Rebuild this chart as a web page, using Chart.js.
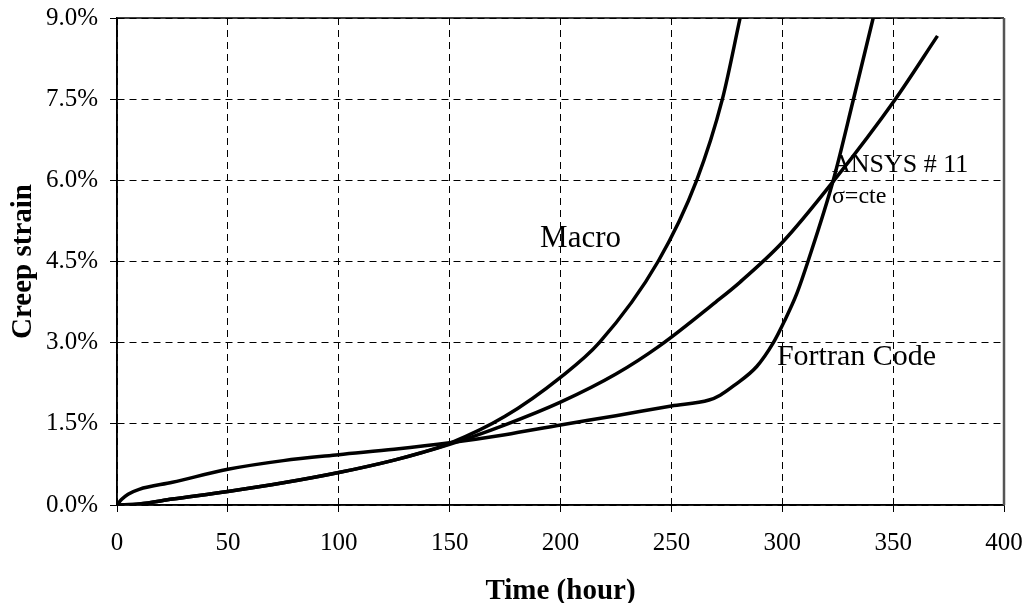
<!DOCTYPE html>
<html>
<head>
<meta charset="utf-8">
<title>Creep strain vs time</title>
<script src="https://cdn.jsdelivr.net/npm/chart.js@4.4.1/dist/chart.umd.min.js"></script>
<style>
  html, body { margin: 0; padding: 0; background: #fff; }
  #wrap { width: 1031px; height: 603px; position: relative; }
</style>
</head>
<body>
<div id="wrap"><canvas id="creep"></canvas></div>
<script>
// axis ticks
const xTicks = [0, 50, 100, 150, 200, 250, 300, 350, 400];
const yTicks = [0, 1.5, 3.0, 4.5, 6.0, 7.5, 9.0];

// creep strain (%) against time (hour) for each model
const macroHours = [0, 10, 25, 50, 75, 100, 125, 137.5, 150, 175, 200, 217.5, 244, 261.4, 273, 281];
const macroStrain = [0, 0.02, 0.11, 0.25, 0.41, 0.6, 0.83, 0.97, 1.14, 1.64, 2.36, 3.0, 4.5, 6.0, 7.5, 9.0];

const ansysHours = [0, 10, 25, 50, 75, 100, 125, 150, 175, 200, 225, 245, 270, 281, 300, 323, 351, 370];
const ansysStrain = [0, 0.02, 0.11, 0.25, 0.41, 0.6, 0.83, 1.12, 1.48, 1.9, 2.42, 2.95, 3.75, 4.12, 4.85, 5.98, 7.5, 8.67];

const fortranHours = [0, 2, 5, 10, 25, 50, 75, 100, 125, 150, 175, 200, 225, 250, 267, 272, 278, 288.5, 296, 301, 306.5, 312, 323, 332, 341];
const fortranStrain = [0, 0.1, 0.2, 0.29, 0.42, 0.66, 0.82, 0.93, 1.03, 1.15, 1.3, 1.48, 1.65, 1.83, 1.94, 2.03, 2.2, 2.56, 3.0, 3.4, 3.9, 4.55, 6.0, 7.48, 9.0];

const serif = "'Liberation Serif', 'Times New Roman', serif";

function toPoints(xs, ys) {
    return xs.map((x, i) => ({ x: x, y: ys[i] }));
}

function curve(label, xs, ys) {
    return {
        label: label,
        data: toPoints(xs, ys),
        borderColor: "#000",
        borderWidth: 3.5,
        pointRadius: 0,
        fill: false,
        cubicInterpolationMode: "monotone"
    };
}

// in-plot labels, placed in data units
const notes = [
    { text: "Macro", x: 190.8, y: 4.77, size: 31 },
    { text: "Fortran Code", x: 297.6, y: 2.59, size: 30 },
    { text: "ANSYS # 11", x: 322.4, y: 6.15, size: 26 },
    { text: "\u03c3=cte", x: 322.4, y: 5.58, size: 24 }
];

// solid frame round the plot area, under the curves
const frame = {
    id: "frame",
    beforeDatasetsDraw(chart) {
        const { ctx, chartArea: a } = chart;
        ctx.save();
        ctx.setLineDash([]);
        ctx.strokeStyle = "#000";
        ctx.lineWidth = 1.5;
        ctx.beginPath();
        ctx.moveTo(a.right, a.top);
        ctx.lineTo(a.left, a.top);
        ctx.lineTo(a.left, a.bottom);
        ctx.lineTo(a.right, a.bottom);
        ctx.stroke();
        ctx.strokeStyle = "#555";
        ctx.lineWidth = 2.5;
        ctx.beginPath();
        ctx.moveTo(a.right, a.top);
        ctx.lineTo(a.right, a.bottom);
        ctx.stroke();
        ctx.restore();
    },
    afterDatasetsDraw(chart) {
        const { ctx, scales } = chart;
        ctx.save();
        ctx.fillStyle = "#000";
        ctx.textAlign = "left";
        ctx.textBaseline = "alphabetic";
        notes.forEach(n => {
            ctx.font = `${n.size}px ${serif}`;
            ctx.fillText(n.text, scales.x.getPixelForValue(n.x), scales.y.getPixelForValue(n.y));
        });
        ctx.restore();
    }
};

new Chart(document.getElementById("creep").getContext("2d"), {
    type: "line",
    data: {
        datasets: [
            curve("Macro", macroHours, macroStrain),
            curve("ANSYS # 11", ansysHours, ansysStrain),
            curve("Fortran Code", fortranHours, fortranStrain)
        ]
    },
    options: {
        responsive: true,
        maintainAspectRatio: false,
        animation: false,
        layout: { padding: { top: 18, right: 27, left: 0, bottom: 0 } },
        plugins: {
            legend: { display: false },
            tooltip: { enabled: false }
        },
        scales: {
            x: {
                type: "linear",
                min: 0,
                max: 400,
                afterFit: s => {
                    s.height = 98;
                    s.paddingLeft = 0;
                    s.paddingRight = 0;
                },
                afterBuildTicks: s => { s.ticks = xTicks.map(v => ({ value: v })); },
                grid: { color: "#000", lineWidth: 1, tickLength: 7, tickColor: "#000" },
                border: { color: "#000", width: 1.5, dash: [7, 5] },
                ticks: {
                    color: "#000",
                    font: { family: serif, size: 25 },
                    padding: 16,
                    maxRotation: 0
                },
                title: {
                    display: true,
                    text: "Time (hour)",
                    color: "#000",
                    font: { family: serif, size: 29, weight: "bold" },
                    padding: { top: 0, bottom: -6 }
                }
            },
            y: {
                min: 0,
                max: 9,
                afterFit: s => {
                    s.width = 117;
                    s.paddingTop = 0;
                    s.paddingBottom = 0;
                },
                afterBuildTicks: s => { s.ticks = yTicks.map(v => ({ value: v })); },
                grid: { color: "#000", lineWidth: 1, tickLength: 7, tickColor: "#000" },
                border: { color: "#000", width: 1.5, dash: [7, 5] },
                ticks: {
                    color: "#000",
                    font: { family: serif, size: 25 },
                    padding: 12,
                    callback: v => v.toFixed(1) + "%"
                },
                title: {
                    display: true,
                    text: "Creep strain",
                    color: "#000",
                    font: { family: serif, size: 29, weight: "bold" },
                    padding: { top: 6, bottom: 0 }
                }
            }
        }
    },
    plugins: [frame]
});
</script>
</body>
</html>
